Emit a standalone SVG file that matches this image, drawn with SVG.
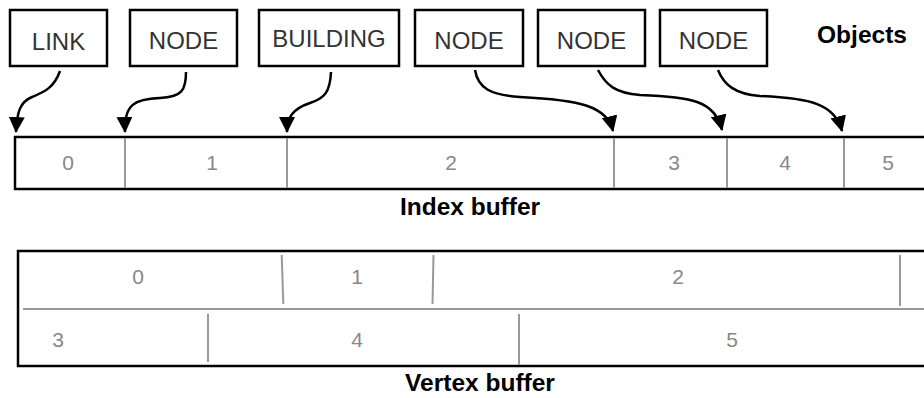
<svg xmlns="http://www.w3.org/2000/svg" width="924" height="398" viewBox="0 0 924 398">
<style>
.box{fill:#fff;stroke:#000;stroke-width:2.5}
.lbl{font-family:"Liberation Sans",Arial,sans-serif;font-size:24px;fill:#333;text-anchor:middle}
.ttl{font-family:"Liberation Sans",Arial,sans-serif;font-size:24.5px;font-weight:bold;fill:#000;text-anchor:middle}
.num{font-family:"Liberation Sans",Arial,sans-serif;font-size:21px;fill:#888;text-anchor:middle}
.buf{fill:#fff;stroke:#000;stroke-width:2.5}
.div{stroke:#999;stroke-width:2;fill:none}
.arr{fill:none;stroke:#000;stroke-width:2.5;marker-end:url(#ah)}
</style>
<defs>
<marker id="ah" markerUnits="userSpaceOnUse" viewBox="0 0 16 16" refX="15" refY="8" markerWidth="16" markerHeight="16" orient="auto">
<path d="M0,0 L16,8 L0,16 z" fill="#000"/>
</marker>
</defs>
<rect width="924" height="398" fill="#fff"/>

<g id="node-link"><rect class="box" x="10" y="10" width="97" height="56"/><text class="lbl" x="58.5" y="50">LINK</text></g>
<g id="node-node1"><rect class="box" x="130" y="10" width="107" height="56"/><text class="lbl" x="183.5" y="49">NODE</text></g>
<g id="node-building"><rect class="box" x="259" y="10" width="140" height="56"/><text class="lbl" x="329" y="47">BUILDING</text></g>
<g id="node-node2"><rect class="box" x="415" y="10" width="108" height="56"/><text class="lbl" x="469" y="49">NODE</text></g>
<g id="node-node3"><rect class="box" x="538" y="10" width="107" height="56"/><text class="lbl" x="591.5" y="49">NODE</text></g>
<g id="node-node4"><rect class="box" x="660" y="10" width="107" height="56"/><text class="lbl" x="713.5" y="49">NODE</text></g>
<g id="label-objects"><text class="ttl" x="862" y="43">Objects</text></g>

<g id="index-buffer">
<rect class="buf" x="15" y="137" width="930" height="52"/>
<line class="div" x1="125" y1="138" x2="125" y2="188"/>
<line class="div" x1="287" y1="138" x2="287" y2="188"/>
<line class="div" x1="614" y1="138" x2="614" y2="188"/>
<line class="div" x1="727" y1="138" x2="727" y2="188"/>
<line class="div" x1="844" y1="138" x2="844" y2="188"/>
<text class="num" x="68" y="170">0</text>
<text class="num" x="212" y="170">1</text>
<text class="num" x="451" y="170">2</text>
<text class="num" x="674" y="170">3</text>
<text class="num" x="785" y="170">4</text>
<text class="num" x="888" y="170">5</text>
<text class="ttl" x="470" y="215">Index buffer</text>
</g>

<g id="vertex-buffer">
<rect class="buf" x="18" y="251" width="930" height="115"/>
<line class="div" x1="23" y1="309" x2="924" y2="309"/>
<line class="div" x1="281.7" y1="255" x2="283.3" y2="304"/>
<line class="div" x1="433.5" y1="255" x2="432.5" y2="304"/>
<line class="div" x1="900" y1="255" x2="900" y2="306"/>
<line class="div" x1="208" y1="314" x2="208" y2="362"/>
<line class="div" x1="519" y1="314" x2="519" y2="365"/>
<text class="num" x="138" y="284">0</text>
<text class="num" x="357" y="284">1</text>
<text class="num" x="678" y="284">2</text>
<text class="num" x="58" y="347">3</text>
<text class="num" x="357" y="347">4</text>
<text class="num" x="732" y="347">5</text>
<text class="ttl" x="480" y="391">Vertex buffer</text>
</g>

<g id="connectors">
<path class="arr" d="M60,71 C54,88 44,92 32,97 C20,102 17,112 16,132"/>
<path class="arr" d="M186,72 C186,90 182,97 160,98 C135,99 124,104 125,132"/>
<path class="arr" d="M331,72 C330,92 325,98 310,103 C292,109 287,118 287,132"/>
<path class="arr" d="M475,70 C478,88 490,95 520,97 C580,100 607,106 613,131"/>
<path class="arr" d="M598,70 C606,85 615,93 640,95 C690,97 715,100 722,130"/>
<path class="arr" d="M718,70 C724,85 735,94 760,96 C810,98 835,104 842,131"/>
</g>
</svg>
